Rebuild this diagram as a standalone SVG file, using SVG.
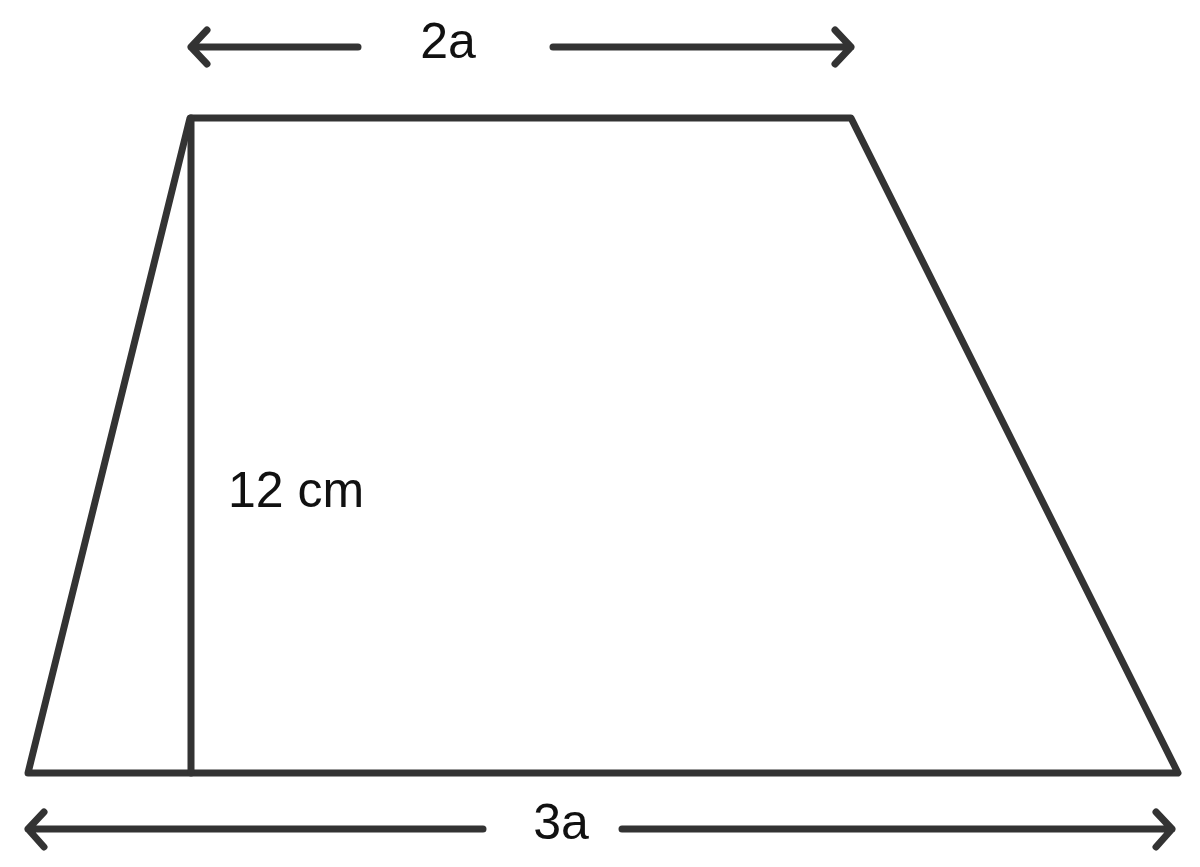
<svg xmlns="http://www.w3.org/2000/svg" width="1200" height="867" viewBox="0 0 1200 867">
<style>
.ln{stroke:#333;stroke-width:7;stroke-linecap:round;stroke-linejoin:round;fill:none}
.t{font-family:"Liberation Sans",Arial,sans-serif;font-size:50px;fill:#111}
</style>
<rect width="1200" height="867" fill="#fff"/>
<g id="shape">
<path class="ln" d="M28,773 L190,118 L851,118 L1178,773 Z"/>
<line class="ln" x1="191" y1="118" x2="191" y2="773"/>
</g>
<g id="connectors">
<path class="ln" d="M358,47 L191,47 M207,30 L191,47 L207,64"/>
<path class="ln" d="M553,47 L851,47 M835,30 L851,47 L835,64"/>
<path class="ln" d="M483,829 L28,829 M44,812 L28,829 L44,847"/>
<path class="ln" d="M622,829 L1172,829 M1156,812 L1172,829 L1156,847"/>
</g>
<g id="labels">
<text class="t" x="448" y="58" text-anchor="middle">2a</text>
<text class="t" x="561" y="839" text-anchor="middle">3a</text>
<text class="t" x="228" y="507">12 cm</text>
</g>
</svg>
